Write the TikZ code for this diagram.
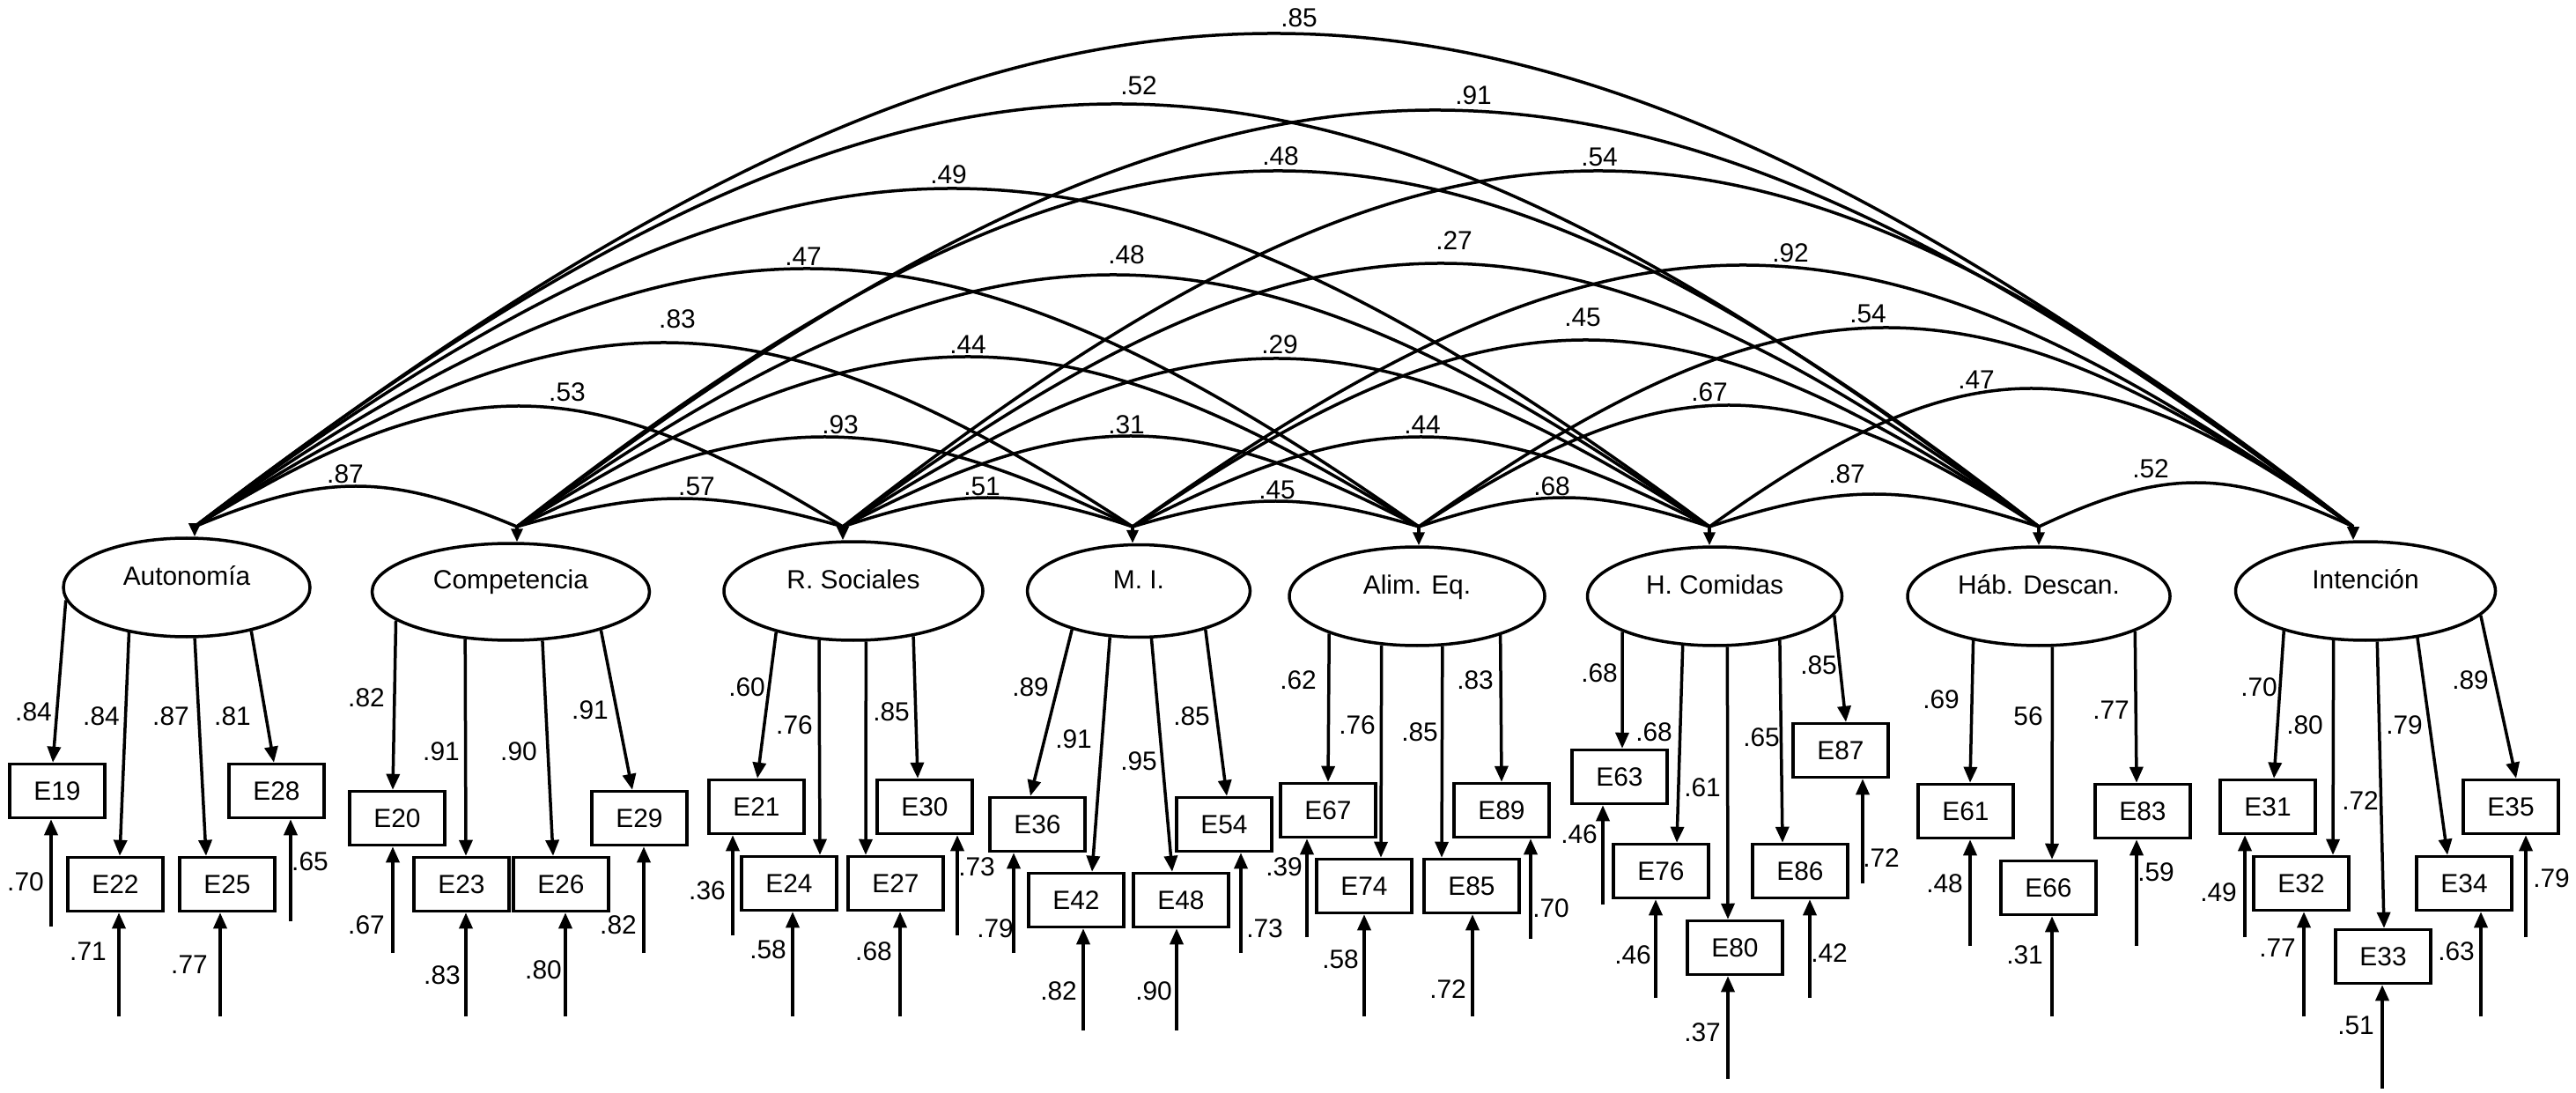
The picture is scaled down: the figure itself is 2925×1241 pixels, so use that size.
\documentclass[tikz,border=0pt]{standalone}
\usepackage{fontspec}
\setmainfont{Liberation Sans}
\usetikzlibrary{shapes.geometric,arrows.meta,calc}
\tikzset{
  every node/.style={font=\fontsize{8.5}{10}\selectfont},
  lat/.style={ellipse, draw, line width=0.35mm, minimum height=11.2mm, text height=2.2mm, text depth=2.8mm, inner sep=0.5mm},
  obs/.style={rectangle, draw, line width=0.35mm, minimum width=10.8mm, minimum height=6.1mm, inner sep=0pt},
  lbl/.style={inner sep=0pt},
  arr/.style={line width=0.35mm, -{Triangle[length=1.8mm,width=1.5mm]}},
  covst/.style={line width=0.35mm},
  tipst/.style={line width=0.35mm, -{Triangle[length=1.5mm,width=1.3mm]}}
}
% loading: #1 latent, #2 angle, #3 box, #4 dx, #5 text, #6 lx, #7 ly
\newcommand\ldg[7]{\draw[arr] (#1.#2) -- ($(#3.north)+(#4,0)$); \node[lbl] (l#3) at (#6,#7) {#5};}
% error: #1 box, #2 x, #3 y, #4 text, #5 lx, #6 ly
\newcommand\erv[6]{\coordinate (e#1) at (#2,#3); \draw[arr] (e#1) -- (e#1 |- #1.south); \node[lbl] (r#1) at (#5,#6) {#4};}
% covariance: #1 name, #2 from, #3 to, #4 peak y, #5 text, #6 lx, #7 ly
\newcommand\covarc[7]{\draw[covst] (#2) .. controls ($(#2)!0.4!(#3)+(0,{(#4-598)/0.75})$) and ($(#3)!0.4!(#2)+(0,{(#4-598)/0.75})$) .. (#3); \node[lbl] (#1) at (#6,#7) {#5};}
\begin{document}
\begin{tikzpicture}[x=0.1mm, y=-0.1mm]
\fill[white] (0,0) rectangle (2925,1241);
\useasboundingbox (0,0) rectangle (2925,1241);

% latent variables
\node[lat, minimum width=28mm] (Aut) at (212,667) {Autonomía};
\node[lat, minimum width=31.5mm, minimum height=11mm] (Comp) at (580,672) {Competencia};
\node[lat, minimum width=29.4mm] (RS) at (969,671) {R. Sociales};
\node[lat, minimum width=25.3mm, minimum height=10.5mm] (MI) at (1293,671) {M. I.};
\node[lat, minimum width=29mm] (Alim) at (1609,677) {Alim. Eq.};
\node[lat, minimum width=28.9mm] (HC) at (1947,677) {H. Comidas};
\node[lat, minimum width=29.8mm] (Hab) at (2315,677) {Háb. Descan.};
\node[lat, minimum width=29.5mm] (Int) at (2686,671) {Intención};

% covariance tips
\coordinate (tA) at (221,598);
\coordinate (tC) at (587,598);
\coordinate (tR) at (957,598);
\coordinate (tM) at (1286,598);
\coordinate (tE) at (1611,598);
\coordinate (tH) at (1941,598);
\coordinate (tB) at (2315,598);
\coordinate (tI) at (2672,598);
\draw[tipst] (tA) -- (tA |- Aut.north);
\draw[tipst] (tC) -- (tC |- Comp.north);
\draw[tipst] (tR) -- (tR |- RS.north);
\draw[tipst] (tM) -- (tM |- MI.north);
\draw[tipst] (tE) -- (tE |- Alim.north);
\draw[tipst] (tH) -- (tH |- HC.north);
\draw[tipst] (tB) -- (tB |- Hab.north);
\draw[tipst] (tI) -- (tI |- Int.north);

% covariances
\covarc{c1}{tA}{tC}{552}{.87}{392}{538}
\covarc{c2}{tC}{tR}{566}{.57}{791}{552}
\covarc{c3}{tR}{tM}{565}{.51}{1115}{552}
\covarc{c4}{tM}{tE}{569}{.45}{1450}{556}
\covarc{c5}{tE}{tH}{565}{.68}{1762}{552}
\covarc{c6}{tH}{tB}{561}{.87}{2097}{538}
\covarc{c7}{tB}{tI}{548}{.52}{2442}{532}
\covarc{c8}{tA}{tR}{461}{.53}{644}{445}
\covarc{c9}{tC}{tM}{496}{.93}{954}{482}
\covarc{c10}{tR}{tE}{495}{.31}{1279}{482}
\covarc{c11}{tM}{tH}{496}{.44}{1615}{482}
\covarc{c12}{tE}{tB}{460}{.67}{1941}{445}
\covarc{c13}{tH}{tI}{441}{.47}{2244}{431}
\covarc{c14}{tA}{tM}{389}{.83}{769}{362}
\covarc{c15}{tC}{tE}{405}{.44}{1099}{391}
\covarc{c16}{tR}{tH}{407}{.29}{1453}{391}
\covarc{c17}{tM}{tB}{386}{.45}{1797}{360}
\covarc{c18}{tE}{tI}{372}{.54}{2121}{356}
\covarc{c19}{tA}{tE}{305}{.47}{912}{291}
\covarc{c20}{tC}{tH}{312}{.48}{1279}{289}
\covarc{c21}{tR}{tB}{299}{.27}{1651}{273}
\covarc{c22}{tM}{tI}{301}{.92}{2033}{287}
\covarc{c23}{tA}{tH}{214}{.49}{1077}{198}
\covarc{c24}{tC}{tB}{194}{.48}{1454}{177}
\covarc{c25}{tR}{tI}{194}{.54}{1816}{178}
\covarc{c26}{tA}{tB}{118}{.52}{1293}{97}
\covarc{c27}{tC}{tI}{125}{.91}{1673}{108}
\covarc{c28}{tA}{tI}{38}{.85}{1475}{20}

% observed variables
\foreach \n/\x/\y in {E19/65/898, E22/131/1004, E25/258/1004, E28/314/898,
  E20/451/929, E23/524/1004, E26/637/1004, E29/726/929,
  E21/859/916, E24/896/1003, E27/1017/1003, E30/1050/916,
  E36/1178/936, E42/1222/1022, E48/1341/1022, E54/1390/936,
  E67/1508/920, E74/1549/1006, E85/1671/1006, E89/1705/920,
  E63/1839/882, E76/1886/989, E80/1970/1076, E86/2044/989, E87/2090/852,
  E61/2232/921, E66/2326/1008, E83/2433/921,
  E31/2575/916, E32/2613/1003, E33/2706/1086, E34/2798/1003, E35/2851/916}
  \node[obs] (\n) at (\x,\y) {\n};

% Autonomia
\ldg{Aut}{186}{E19}{-5}{.84}{38}{808}
\ldg{Aut}{218}{E22}{5}{.84}{115}{813}
\ldg{Aut}{279}{E25}{-24}{.87}{194}{813}
\ldg{Aut}{326}{E28}{-3}{.81}{264}{813}
\erv{E19}{58}{1052}{.70}{29}{1001}
\erv{E22}{135}{1154}{.71}{100}{1080}
\erv{E25}{250}{1154}{.77}{215}{1095}
\erv{E28}{330}{1046}{.65}{352}{978}
% Competencia
\ldg{Comp}{194}{E20}{-5}{.82}{416}{792}
\ldg{Comp}{226}{E23}{5}{.91}{501}{853}
\ldg{Comp}{303}{E26}{-9}{.90}{589}{853}
\ldg{Comp}{337}{E29}{-8}{.91}{670}{806}
\erv{E20}{446}{1082}{.67}{416}{1050}
\erv{E23}{529}{1154}{.83}{502}{1107}
\erv{E26}{642}{1154}{.80}{617}{1101}
\erv{E29}{731}{1082}{.82}{702}{1050}
% R. Sociales
\ldg{RS}{208}{E21}{1}{.60}{848}{780}
\ldg{RS}{235}{E24}{35}{.76}{902}{823}
\ldg{RS}{284}{E27}{-34}{}{983}{830}
\ldg{RS}{323}{E30}{-8}{.85}{1012}{808}
\erv{E21}{832}{1062}{.36}{803}{1011}
\erv{E24}{900}{1154}{.58}{872}{1078}
\erv{E27}{1022}{1154}{.68}{992}{1080}
\erv{E30}{1087}{1062}{.73}{1109}{984}
% M. I.
\ldg{MI}{210}{E36}{-8}{.89}{1170}{780}
\ldg{MI}{238}{E42}{18}{.91}{1219}{839}
\ldg{MI}{285}{E48}{-10}{.95}{1293}{864}
\ldg{MI}{330}{E54}{3}{.85}{1353}{813}
\erv{E36}{1151}{1082}{.79}{1130}{1054}
\erv{E42}{1230}{1170}{.82}{1202}{1125}
\erv{E48}{1336}{1170}{.90}{1310}{1125}
\erv{E54}{1409}{1082}{.73}{1436}{1054}
% Alim. Eq.
\ldg{Alim}{203}{E67}{0}{.62}{1474}{772}
\ldg{Alim}{234}{E74}{19}{.76}{1541}{823}
\ldg{Alim}{297}{E85}{-34}{.85}{1612}{831}
\ldg{Alim}{335}{E89}{0}{.83}{1675}{772}
\erv{E67}{1484}{1064}{.39}{1458}{984}
\erv{E74}{1549}{1154}{.58}{1522}{1089}
\erv{E85}{1672}{1154}{.72}{1644}{1123}
\erv{E89}{1738}{1066}{.70}{1761}{1031}
% H. Comidas
\ldg{HC}{201}{E63}{3}{.68}{1816}{764}
\ldg{HC}{237}{E76}{18}{.68}{1878}{831}
\ldg{HC}{284}{E80}{-8}{.61}{1933}{894}
\ldg{HC}{326}{E86}{-20}{.65}{2000}{837}
\ldg{HC}{351}{E87}{6}{.85}{2065}{755}
\erv{E63}{1820}{1027}{.46}{1793}{947}
\erv{E76}{1880}{1133}{.46}{1854}{1084}
\erv{E80}{1962}{1225}{.37}{1933}{1172}
\erv{E86}{2055}{1133}{.42}{2077}{1082}
\erv{E87}{2115}{1003}{.72}{2136}{974}
% Hab. Descan.
\ldg{Hab}{214}{E61}{5}{.69}{2204}{794}
\ldg{Hab}{285}{E66}{4}{56}{2303}{813}
\ldg{Hab}{340}{E83}{-7}{.77}{2397}{806}
\erv{E61}{2237}{1074}{.48}{2208}{1003}
\erv{E66}{2330}{1154}{.31}{2299}{1084}
\erv{E83}{2426}{1074}{.59}{2448}{990}
% Intencion
\ldg{Int}{206}{E31}{7}{.70}{2565}{780}
\ldg{Int}{237}{E32}{36}{.80}{2617}{823}
\ldg{Int}{283}{E33}{1}{.72}{2680}{909}
\ldg{Int}{318}{E34}{-19}{.79}{2730}{823}
\ldg{Int}{348}{E35}{6}{.89}{2805}{772}
\erv{E31}{2549}{1064}{.49}{2519}{1013}
\erv{E32}{2616}{1154}{.77}{2586}{1076}
\erv{E33}{2705}{1236}{.51}{2675}{1164}
\erv{E34}{2817}{1154}{.63}{2789}{1080}
\erv{E35}{2868}{1064}{.79}{2897}{997}
\end{tikzpicture}
\end{document}
